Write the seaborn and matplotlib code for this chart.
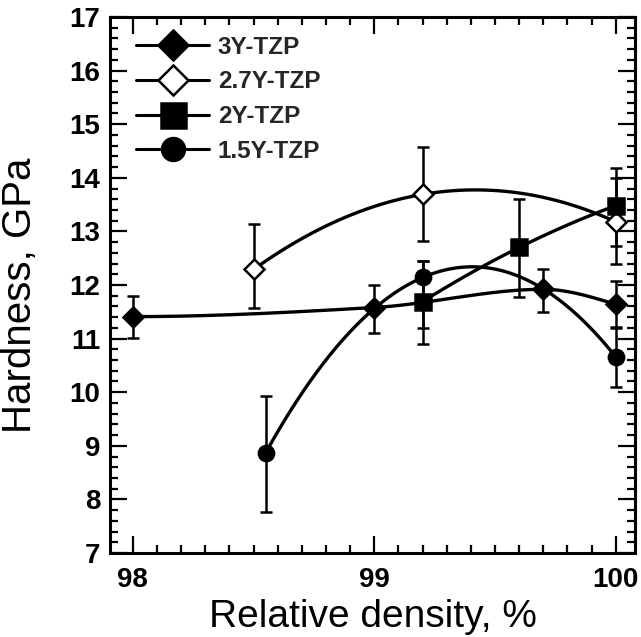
import numpy as np
import pandas as pd
import matplotlib
matplotlib.use("Agg")
import matplotlib.pyplot as plt
from matplotlib.lines import Line2D
from matplotlib.ticker import MultipleLocator
import seaborn as sns

# ---- data ----
labels = ["3Y-TZP", "2.7Y-TZP", "2Y-TZP", "1.5Y-TZP"]

x_3y = [98.0, 99.0, 99.7, 100.0]
y_3y = [11.41, 11.58, 11.92, 11.64]
elo_3y = [0.40, 0.47, 0.43, 0.44]
ehi_3y = [0.39, 0.42, 0.37, 0.43]

x_27y = [98.5, 99.2, 100.0]
y_27y = [12.29, 13.69, 13.18]
elo_27y = [0.72, 0.87, 0.78]
ehi_27y = [0.84, 0.88, 0.82]

x_2y = [99.2, 99.6, 100.0]
y_2y = [11.69, 12.70, 13.48]
elo_2y = [0.80, 0.92, 0.75]
ehi_2y = [0.76, 0.90, 0.70]

x_15y = [98.55, 99.2, 100.0]
y_15y = [8.87, 12.14, 10.66]
elo_15y = [1.10, 0.94, 0.56]
ehi_15y = [1.06, 0.31, 0.56]

# smoothing used for each guide curve: 'pchip' or a polynomial order
fit_kind = ['pchip', 2, 2, 2]

xticks = [98, 99, 100]
yticks = [7, 8, 9, 10, 11, 12, 13, 14, 15, 16, 17]


def pchip_curve(xs, ys, n=200):
    """Shape-preserving piecewise cubic through the given points."""
    x = np.asarray(xs, float)
    y = np.asarray(ys, float)
    h = np.diff(x)
    d = np.diff(y) / h
    m = np.zeros_like(x)
    for k in range(1, len(x) - 1):
        if d[k - 1] * d[k] > 0:
            w1 = 2 * h[k] + h[k - 1]
            w2 = h[k] + 2 * h[k - 1]
            m[k] = (w1 + w2) / (w1 / d[k - 1] + w2 / d[k])

    def end(h0, h1, d0, d1):
        s = ((2 * h0 + h1) * d0 - h0 * d1) / (h0 + h1)
        if np.sign(s) != np.sign(d0):
            s = 0.0
        elif np.sign(d0) != np.sign(d1) and abs(s) > abs(3 * d0):
            s = 3 * d0
        return s

    m[0] = end(h[0], h[1], d[0], d[1])
    m[-1] = end(h[-1], h[-2], d[-1], d[-2])
    xx = np.linspace(x[0], x[-1], n)
    idx = np.clip(np.searchsorted(x, xx) - 1, 0, len(h) - 1)
    t = (xx - x[idx]) / h[idx]
    h00 = 2 * t**3 - 3 * t**2 + 1
    h10 = t**3 - 2 * t**2 + t
    h01 = -2 * t**3 + 3 * t**2
    h11 = t**3 - t**2
    yy = (h00 * y[idx] + h10 * h[idx] * m[idx] + h01 * y[idx + 1]
          + h11 * h[idx] * m[idx + 1])
    return xx, yy


sns.set_theme(style="ticks")
plt.rcParams['font.family'] = ['Liberation Sans', 'DejaVu Sans']

fig = plt.figure(figsize=(6.41, 6.37), dpi=100)
ax = fig.add_axes([110/641, 1-553/637, 525/641, 536/637])

series = [
    (x_3y, y_3y, elo_3y, ehi_3y, 'D', 'black', 10, 2),
    (x_27y, y_27y, elo_27y, ehi_27y, 'D', 'white', 10, 3),
    (x_2y, y_2y, elo_2y, ehi_2y, 's', 'black', 12, 4),
    (x_15y, y_15y, elo_15y, ehi_15y, 'o', 'black', 11, 5),
]

handles = []
for (xs, ys, lo, hi, mk, fc, ms, z), lab, kind in zip(series, labels, fit_kind):
    df = pd.DataFrame({"x": xs, "y": ys})
    if kind == 'pchip':
        cx, cy = pchip_curve(xs, ys)
        sns.lineplot(x=cx, y=cy, ax=ax, color='black', lw=2.4, zorder=1,
                     estimator=None, sort=False, legend=False)
    else:
        sns.regplot(data=df, x="x", y="y", order=kind, ci=None, scatter=False,
                    truncate=True, ax=ax,
                    line_kws=dict(color='black', lw=2.4, zorder=1))
    ax.errorbar(xs, ys, yerr=[lo, hi], fmt='none', ecolor='black',
                elinewidth=1.8, capsize=4.5, capthick=1.8, zorder=z)
    ax.plot(xs, ys, linestyle='none', marker=mk, markersize=ms,
            markerfacecolor=fc, markeredgecolor='black', markeredgewidth=1.8,
            zorder=z + 5)
    handles.append(Line2D([0], [0], color='black', lw=2.2, marker=mk,
                          markersize=ms, markerfacecolor=fc,
                          markeredgecolor='black', markeredgewidth=1.8))

ax.set_xlim(97.905, 100.08)
ax.set_ylim(7, 17)
ax.set_xticks(xticks)
ax.set_yticks(yticks)
ax.xaxis.set_minor_locator(MultipleLocator(0.1))
ax.yaxis.set_minor_locator(MultipleLocator(0.2))
ax.tick_params(which='both', direction='in', top=True, right=True,
               color='black', width=1.6)
ax.tick_params(which='major', length=12)
ax.tick_params(which='minor', length=6)
ax.tick_params(axis='x', which='major', pad=10)
ax.tick_params(axis='y', which='major', pad=7)
for lab in ax.get_xticklabels() + ax.get_yticklabels():
    lab.set_fontsize(20)
    lab.set_fontweight('bold')
    lab.set_color('black')
for sp in ax.spines.values():
    sp.set_linewidth(2.2)
    sp.set_color('black')

ax.set_xlabel("Relative density, %", fontsize=28, color='black')
ax.set_ylabel("Hardness, GPa", fontsize=29, color='black')
ax.xaxis.set_label_coords(0.5, -0.085)
ax.yaxis.set_label_coords(-0.135, 0.48)

leg = ax.legend(handles, labels, loc='upper left',
                bbox_to_anchor=(0.05, 0.965), frameon=False,
                handlelength=3.0, handletextpad=0.35, labelspacing=0.48,
                borderpad=0, borderaxespad=0, markerscale=1.5,
                prop=dict(family='Liberation Sans', weight='bold', size=17.5))

fig.savefig("out.png", dpi=100)
